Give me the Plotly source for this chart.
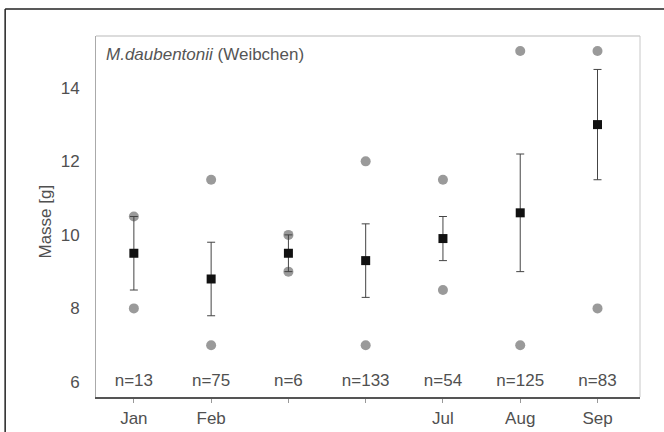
import plotly.graph_objects as go

# Monthly body mass of female M. daubentonii
months = ["Jan", "Feb", "", "", "Jul", "Aug", "Sep"]
mean_mass = [9.5, 8.8, 9.5, 9.3, 9.9, 10.6, 13.0]
sd_mass = [1.0, 1.0, 0.5, 1.0, 0.6, 1.6, 1.5]
min_mass = [8.0, 7.0, 9.0, 7.0, 8.5, 7.0, 8.0]
max_mass = [10.5, 11.5, 10.0, 12.0, 11.5, 15.0, 15.0]
n_count = [13, 75, 6, 133, 54, 125, 83]
y_ticks = [6, 8, 10, 12, 14]

xs = list(range(len(months)))
font = "Liberation Sans, Arial, sans-serif"
text_color = "#505050"
fs = 17

fig = go.Figure()

# minimum / maximum values
fig.add_trace(go.Scatter(
    x=xs + xs, y=min_mass + max_mass, mode="markers",
    marker=dict(symbol="circle", size=10, color="#9a9a9a"),
    showlegend=False, hoverinfo="skip"))

# mean with standard deviation
fig.add_trace(go.Scatter(
    x=xs, y=mean_mass, mode="markers",
    marker=dict(symbol="square", size=9, color="#111111"),
    error_y=dict(type="data", array=sd_mass, visible=True,
                 color="#444444", thickness=1, width=4),
    showlegend=False, hoverinfo="skip"))

# sample sizes along the bottom
fig.add_trace(go.Scatter(
    x=xs, y=[6.0] * len(xs), mode="text",
    text=[f"n={n}" for n in n_count],
    textfont=dict(family=font, size=fs, color=text_color),
    showlegend=False, hoverinfo="skip"))

fig.update_layout(
    width=664, height=432,
    margin=dict(l=96, r=24, t=36, b=35),
    paper_bgcolor="white", plot_bgcolor="white",
    font=dict(family=font, size=fs, color=text_color),
    xaxis=dict(
        range=[-0.49, 6.55], tickvals=xs, ticktext=months,
        showgrid=False, zeroline=False, automargin=False,
        showline=True, linecolor="#555555", linewidth=1.5,
        ticks="outside", ticklen=4, tickcolor="#999999",
        ticklabelstandoff=1,
        tickfont=dict(family=font, size=fs, color=text_color),
    ),
    yaxis=dict(
        range=[5.59, 15.41], tickvals=y_ticks,
        showgrid=False, zeroline=False, automargin=False,
        showline=True, linecolor="#aaaaaa", linewidth=1,
        ticks="", ticklabelstandoff=12,
        tickfont=dict(family=font, size=fs, color=text_color),
    ),
    shapes=[
        # light frame on top and right of the plot area
        dict(type="line", xref="paper", yref="paper", x0=0, x1=1, y0=1, y1=1,
             line=dict(color="#d0d0d0", width=1.5)),
        dict(type="line", xref="paper", yref="paper", x0=1, x1=1, y0=0, y1=1,
             line=dict(color="#c8c8c8", width=1)),
        # outer figure border
        dict(type="line", xref="paper", yref="paper", x0=-0.167, x1=1.1,
             y0=1.075, y1=1.075, line=dict(color="#222222", width=1.5)),
        dict(type="line", xref="paper", yref="paper", x0=-0.167, x1=-0.167,
             y0=-0.2, y1=1.075, line=dict(color="#222222", width=1.5)),
    ],
    annotations=[
        dict(text="<i>M.daubentonii</i> (Weibchen)", xref="paper", yref="paper",
             x=0.014, y=0.95, xanchor="left", yanchor="middle", showarrow=False,
             font=dict(family=font, size=fs, color="#555555")),
        dict(text="Masse [g]", xref="paper", yref="y", x=0, y=10.35,
             xshift=-62, textangle=-90, showarrow=False,
             font=dict(family=font, size=fs, color=text_color)),
    ],
)

fig.write_html("out.html")
